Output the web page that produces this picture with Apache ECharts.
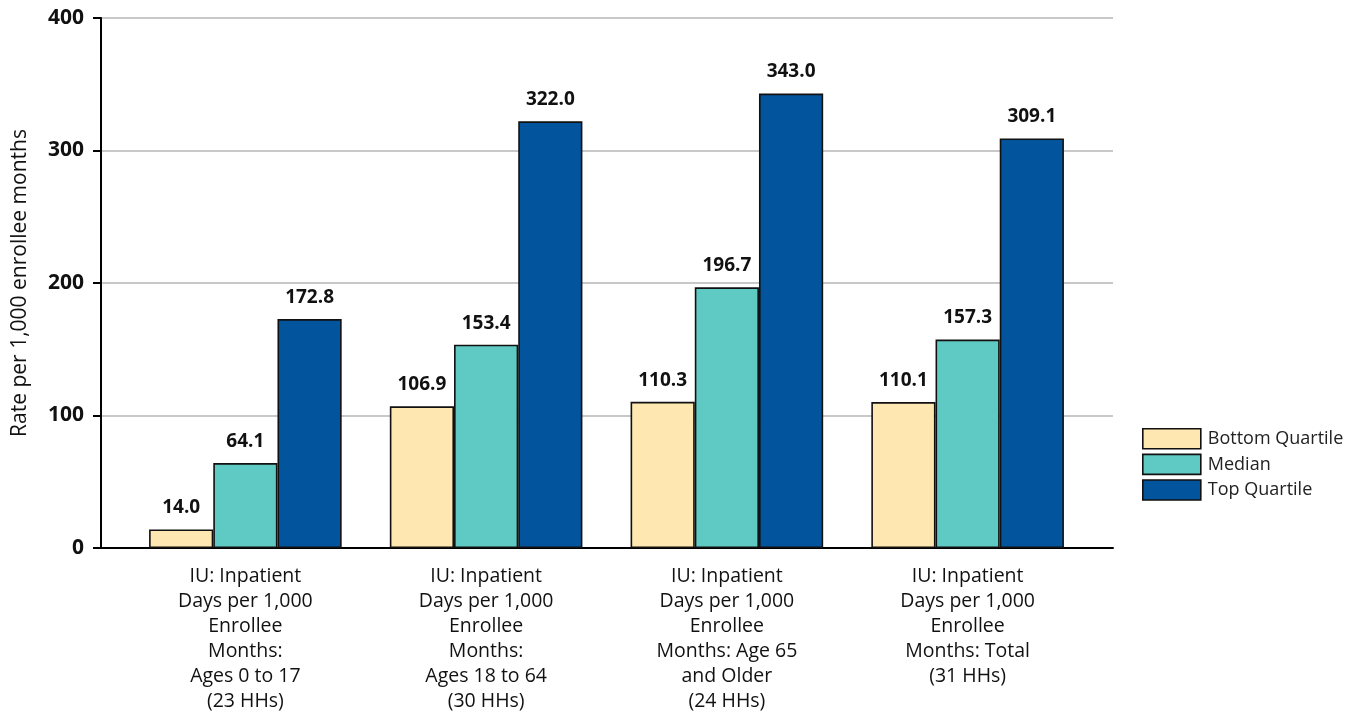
<!DOCTYPE html>
<html>
<head>
<meta charset="utf-8">
<script src="https://cdn.jsdelivr.net/npm/echarts@6/dist/echarts.min.js"></script>
<style>
  html, body { margin: 0; padding: 0; background: #fff; }
  #chart { width: 1351px; height: 716px; }
</style>
</head>
<body>
<div id="chart"></div>
<script>
// data
const categories = [
  'IU: Inpatient\nDays per 1,000\nEnrollee\nMonths:\nAges 0 to 17\n(23 HHs)',
  'IU: Inpatient\nDays per 1,000\nEnrollee\nMonths:\nAges 18 to 64\n(30 HHs)',
  'IU: Inpatient\nDays per 1,000\nEnrollee\nMonths: Age 65\nand Older\n(24 HHs)',
  'IU: Inpatient\nDays per 1,000\nEnrollee\nMonths: Total\n(31 HHs)'
];
const seriesNames = ['Bottom Quartile', 'Median', 'Top Quartile'];
const bottomQuartile = [14.0, 106.9, 110.3, 110.1];
const median = [64.1, 153.4, 196.7, 157.3];
const topQuartile = [172.8, 322.0, 343.0, 309.1];
const colors = ['#fee7b1', '#5fc9c3', '#02549c'];

const font = '"Open Sans", "Noto Sans", sans-serif';

const chart = echarts.init(document.getElementById('chart'));

function bar(name, data, color) {
  return {
    name: name,
    type: 'bar',
    xAxisIndex: 1,
    yAxisIndex: 1,
    data: data,
    barGap: '0%',
    barCategoryGap: '20%',
    itemStyle: { color: color, borderColor: '#111', borderWidth: 1.6 },
    label: {
      show: true,
      position: 'top',
      distance: 12,
      fontFamily: font,
      fontWeight: 'bold',
      fontSize: 19,
      color: '#111',
      formatter: p => p.value.toFixed(1)
    }
  };
}

// outer grid carries the axes and gridlines, inner grid is padded so the
// bar groups sit in from the ends of the axis like in the original
const option = {
  animation: false,
  textStyle: { fontFamily: font },
  grid: [
    { left: 101, right: 238, top: 18, bottom: 168 },
    { left: 125, right: 263, top: 18, bottom: 168 }
  ],
  legend: {
    orient: 'vertical',
    left: 1137,
    top: 423,
    itemWidth: 58,
    itemHeight: 20,
    itemGap: 4,
    icon: 'rect',
    itemStyle: { borderColor: '#111', borderWidth: 1.6 },
    textStyle: { fontFamily: font, fontSize: 18, color: '#222', padding: [0, 0, 0, 2] },
    data: seriesNames
  },
  xAxis: [
    {
      gridIndex: 0,
      type: 'category',
      data: [''],
      axisLine: { lineStyle: { color: '#000', width: 2 } },
      axisTick: { show: false },
      axisLabel: { show: false }
    },
    {
      gridIndex: 1,
      type: 'category',
      data: categories,
      axisLine: { show: false },
      axisTick: { show: false },
      axisLabel: {
        interval: 0,
        margin: 16,
        fontFamily: font,
        fontSize: 19.5,
        lineHeight: 25,
        color: '#111'
      }
    }
  ],
  yAxis: [
    {
      gridIndex: 0,
      type: 'value',
      min: 0,
      max: 400,
      interval: 100,
      name: 'Rate per 1,000 enrollee months',
      nameLocation: 'middle',
      nameGap: 70,
      nameTextStyle: { fontFamily: font, fontSize: 21, color: '#111' },
      axisLine: { show: true, lineStyle: { color: '#000', width: 2 } },
      axisTick: { show: true, length: 8, lineStyle: { color: '#000', width: 2 } },
      axisLabel: { fontFamily: font, fontWeight: 'bold', fontSize: 21, color: '#111', margin: 17 },
      splitLine: { lineStyle: { color: '#c8c8c8', width: 2 } }
    },
    {
      gridIndex: 1,
      type: 'value',
      min: 0,
      max: 400,
      show: false
    }
  ],
  series: [
    bar(seriesNames[0], bottomQuartile, colors[0]),
    bar(seriesNames[1], median, colors[1]),
    bar(seriesNames[2], topQuartile, colors[2])
  ]
};

chart.setOption(option);
</script>
</body>
</html>
